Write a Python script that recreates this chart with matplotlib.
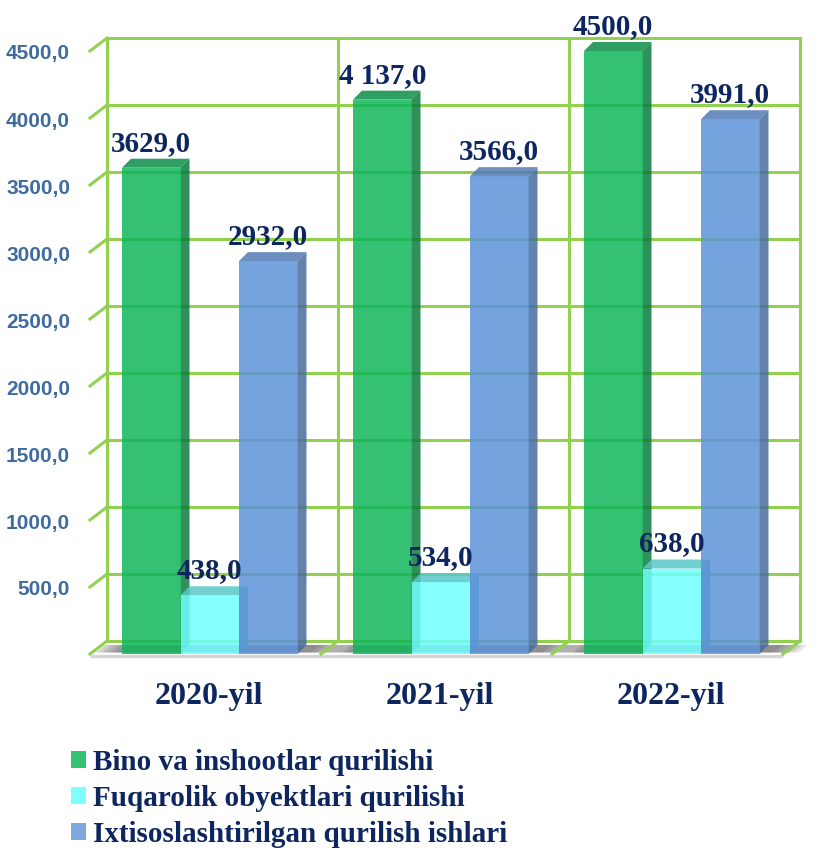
import matplotlib
matplotlib.use('Agg')
import matplotlib.pyplot as plt
from matplotlib.patches import Polygon, Patch

# data
years = ['2020-yil', '2021-yil', '2022-yil']
bino = [3629, 4137, 4500]
fuqarolik = [438, 534, 638]
ixtisos = [2932, 3566, 3991]
bino_labels = ['3629,0', '4 137,0', '4500,0']
fuqarolik_labels = ['438,0', '534,0', '638,0']
ixtisos_labels = ['2932,0', '3566,0', '3991,0']
series_names = ['Bino va inshootlar qurilishi',
                'Fuqarolik obyektlari qurilishi',
                'Ixtisoslashtirilgan qurilish ishlari']
y_ticks = [500, 1000, 1500, 2000, 2500, 3000, 3500, 4000, 4500]
y_tick_labels = ['500,0', '1000,0', '1500,0', '2000,0', '2500,0',
                 '3000,0', '3500,0', '4000,0', '4500,0']

NAVY = '#0D2660'
GRID = '#92D050'
TICK = '#3F6C9E'
SERIF = ['Liberation Serif', 'DejaVu Serif']
SANS = ['Liberation Sans', 'DejaVu Sans']

# pixel -> data scale (one category = 231 px, 500 units = 67 px)
PX_X = 1 / 231
PX_Y = 500 / 67

fig = plt.figure(figsize=(8.25, 8.61), dpi=100)
ax = fig.add_axes([0, 0, 1, 1])
ax.set_xlim(-90 * PX_X, 735 * PX_X)
ax.set_ylim(-207 * PX_Y, 654 * PX_Y)
ax.axis('off')

n = len(years)
# wall / floor depth
dxw, dyw = 17 * PX_X, 13 * PX_Y
# bar depth
dxb, dyb = 9 * PX_X, 9 * PX_Y
top = y_ticks[-1]

# floor
ax.add_patch(Polygon([(0, 0), (n, 0), (n + dxw, dyw), (dxw, dyw)],
                     closed=True, facecolor='white', edgecolor='none', zorder=1))
ax.plot([0, n], [-1.5 * PX_Y, -1.5 * PX_Y], color='#D6D6D6', lw=2.5,
        solid_capstyle='butt', zorder=1.5)

# back wall and left wall grid
for v in y_ticks:
    ax.plot([dxw, n + dxw], [v + dyw, v + dyw], color=GRID, lw=2.2, zorder=3)
    ax.plot([0, dxw], [v, v + dyw], color=GRID, lw=2.2, zorder=3)
ax.plot([dxw, n + dxw], [dyw, dyw], color=GRID, lw=2.2, zorder=3)
for i in range(n + 1):
    ax.plot([i + dxw, i + dxw], [dyw, top + dyw], color=GRID, lw=2.2, zorder=3)
    ax.plot([i, i + dxw], [0, dyw], color=GRID, lw=2.2, zorder=3)

bw = 58.5 * PX_X
off = 32 * PX_X
series = [
    (bino, bino_labels, '#10B65B', '#0B7B3D', '#0A8D46'),
    (fuqarolik, fuqarolik_labels, '#70FFFF', '#3FB0C4', '#57C7C7'),
    (ixtisos, ixtisos_labels, '#5C93D8', '#4A6C9B', '#547CB5'),
]

# shadows on the floor under each group
for i in range(n):
    gl = i + off
    gr = i + off + 3 * bw + dxb
    for k in range(6):
        e = (6 - k) * 5 * PX_X
        ax.add_patch(Polygon([(gl - e, 1.5 * PX_Y), (gr + e, 1.5 * PX_Y),
                              (gr + e + dxb, 9 * PX_Y), (gl - e + dxb, 9 * PX_Y)],
                             closed=True, facecolor='#333333', alpha=0.12,
                             edgecolor='none', zorder=2))

alpha = 0.85
z = 4
for s, (vals, labels, front, side, topc) in enumerate(series):
    xs = [i + off + s * bw for i in range(n)]
    ax.bar(xs, vals, width=bw, align='edge', color=front, alpha=alpha,
           edgecolor='none', zorder=z + 1)
    for x, h, lab in zip(xs, vals, labels):
        ax.add_patch(Polygon([(x + bw, 0), (x + bw + dxb, dyb),
                              (x + bw + dxb, h + dyb), (x + bw, h)],
                             closed=True, facecolor=side, alpha=alpha,
                             edgecolor='none', zorder=z))
        ax.add_patch(Polygon([(x, h), (x + dxb, h + dyb),
                              (x + bw + dxb, h + dyb), (x + bw, h)],
                             closed=True, facecolor=topc, alpha=alpha,
                             edgecolor='none', zorder=z))
        ax.text(x + bw / 2, h + dyb + 8 * PX_Y, lab, ha='center', va='baseline',
                fontsize=21, fontweight='bold', color=NAVY, family=SERIF,
                zorder=20)
    z += 2

# y tick labels
for v, lab in zip(y_ticks, y_tick_labels):
    ax.text(-20 * PX_X, v - 3 * PX_Y, lab, ha='right', va='center',
            fontsize=15, fontweight='bold', color=TICK, family=SANS)

# category labels
for i, yr in enumerate(years):
    ax.text(i + 0.5 + 3 * PX_X, -50 * PX_Y, yr, ha='center', va='baseline',
            fontsize=23, fontweight='bold', color=NAVY, family=SERIF)

# legend
handles = [Patch(facecolor=c, edgecolor='none')
           for c in ['#34C174', '#80FFFF', '#7DA9E0']]
leg = fig.legend(handles, series_names, loc='upper left',
                 bbox_to_anchor=(71 / 825, 1 - 749 / 861), frameon=False,
                 prop={'family': SERIF, 'weight': 'bold', 'size': 21},
                 handlelength=0.52, handleheight=0.52, handletextpad=0.22,
                 labelspacing=0.3, borderpad=0, borderaxespad=0)
for t in leg.get_texts():
    t.set_color(NAVY)

fig.savefig('out.png', dpi=100)
